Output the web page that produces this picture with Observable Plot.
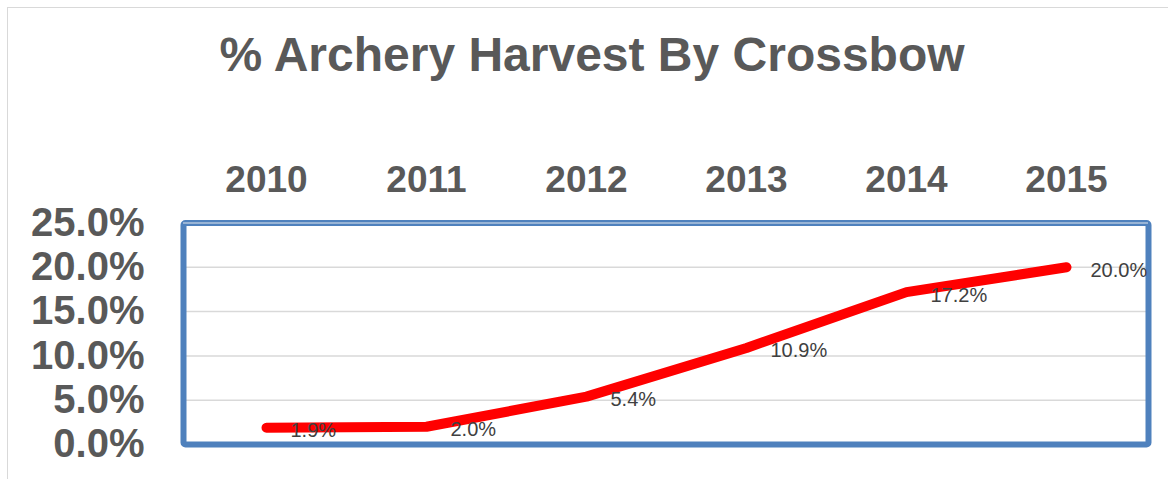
<!DOCTYPE html>
<html>
<head>
<meta charset="utf-8">
<script src="https://cdn.jsdelivr.net/npm/d3@7"></script>
<script src="https://cdn.jsdelivr.net/npm/@observablehq/plot@0.6"></script>
<style>
  html, body { margin: 0; padding: 0; background: #fff; overflow: hidden; }
  #wrap { position: relative; width: 1168px; height: 479px; overflow: hidden; background: #fff; }
  #outer { position: absolute; left: 7px; top: 7px; width: 2000px; height: 2000px; border: 1px solid #d9d9d9; box-sizing: border-box; }
  #title { position: absolute; left: 0; top: 31px; width: 1184px; text-align: center;
           font-family: "Liberation Sans", Arial, sans-serif; font-weight: bold; font-size: 48px;
           line-height: 48px; color: #595959; white-space: nowrap; }
  #chart { position: absolute; left: 0; top: 110px; }
</style>
</head>
<body>
<div id="wrap">
  <div id="outer"></div>
  <div id="title">% Archery Harvest By Crossbow</div>
  <div id="chart"></div>
</div>
<script>
const years = ["2010", "2011", "2012", "2013", "2014", "2015"];
const pctValues = [1.9, 2.0, 5.4, 10.9, 17.2, 20.0];
const yTicks = [0, 5, 10, 15, 20, 25];
const gridTicks = [5, 10, 15, 20];

const data = years.map((y, i) => ({year: y, value: pctValues[i]}));

const chart = Plot.plot({
  width: 1168,
  height: 369,
  marginLeft: 183,
  marginRight: 20,
  marginTop: 112.5,
  marginBottom: 35,
  style: {fontFamily: "Liberation Sans, Arial, sans-serif", background: "transparent"},
  x: {type: "point", domain: years, padding: 0.5, label: null},
  y: {domain: [0, 25], label: null},
  marks: [
    Plot.gridY(gridTicks, {stroke: "#d9d9d9", strokeOpacity: 1, strokeWidth: 1.5}),
    Plot.frame({stroke: "#4f81bd", strokeWidth: 6, rx: 2}),
    Plot.gridY([25], {stroke: "#e4e8ee", strokeOpacity: 1, strokeWidth: 1}),
    Plot.axisY({anchor: "left", ticks: yTicks, tickSize: 0, tickPadding: 39, label: null,
      tickFormat: d => d.toFixed(1) + "%", fontSize: 40, fontWeight: "bold", color: "#595959"}),
    Plot.axisX({anchor: "top", tickSize: 0, tickPadding: 31, label: null,
      fontSize: 37, fontWeight: "bold", color: "#595959"}),
    Plot.line(data, {x: "year", y: "value", stroke: "#ff0000", strokeWidth: 10,
      strokeLinecap: "round", strokeLinejoin: "round"}),
    Plot.text(data, {x: "year", y: "value", text: d => d.value.toFixed(1) + "%",
      textAnchor: "start", dx: 24, dy: 3, fontSize: 20, fill: "#404040"})
  ]
});
document.getElementById("chart").appendChild(chart);
</script>
</body>
</html>
